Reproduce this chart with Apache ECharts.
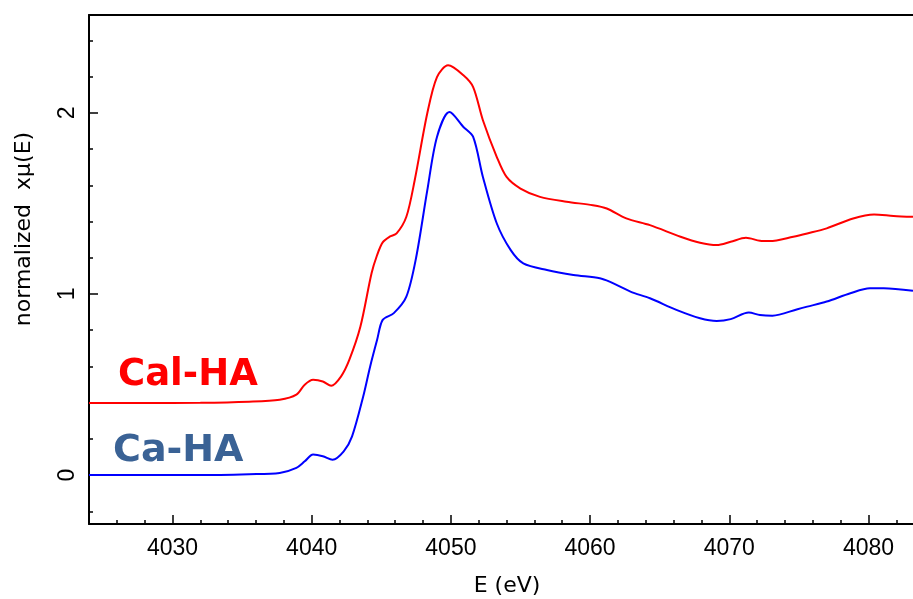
<!DOCTYPE html>
<html>
<head>
<meta charset="utf-8">
<script src="https://cdn.jsdelivr.net/npm/echarts@6/dist/echarts.min.js"></script>
<style>
  html, body { margin: 0; padding: 0; background: #fff; }
  #main { width: 913px; height: 599px; }
</style>
</head>
<body>
<div id="main"></div>
<script>
  // CaI-HA spectrum (red)
  var energyCaI = [4024, 4028, 4032, 4035.5, 4037.7, 4038.9, 4039.5, 4040.1, 4040.8, 4041.4, 4042.1, 4042.7, 4043.5, 4044.3, 4044.7, 4045.1, 4045.6, 4046.1, 4046.8, 4047.4, 4048.3, 4049.0, 4049.8, 4050.9, 4051.6, 4052.3, 4053.3, 4054.0, 4055.0, 4056.4, 4058.3, 4060.2, 4061.2, 4062.6, 4064.3, 4066.5, 4067.9, 4069.1, 4070.1, 4071.2, 4072.2, 4072.9, 4074.6, 4075.6, 4077.0, 4078.9, 4080.4, 4081.8, 4083.2]
  var muCaI = [0.398, 0.398, 0.399, 0.405, 0.416, 0.444, 0.499, 0.526, 0.517, 0.493, 0.544, 0.636, 0.82, 1.114, 1.215, 1.285, 1.316, 1.334, 1.426, 1.628, 1.996, 2.197, 2.262, 2.207, 2.142, 1.959, 1.756, 1.646, 1.582, 1.536, 1.509, 1.49, 1.472, 1.417, 1.38, 1.316, 1.283, 1.27, 1.288, 1.31, 1.294, 1.292, 1.316, 1.334, 1.362, 1.417, 1.439, 1.431, 1.426]

  // Ca-HA spectrum (blue)
  var energyCa = [4024, 4028, 4032, 4035.5, 4037.7, 4038.9, 4039.5, 4040.1, 4040.8, 4041.5, 4042.3, 4042.9, 4043.7, 4044.2, 4044.7, 4045.1, 4045.9, 4046.8, 4047.5, 4048.3, 4049.0, 4049.9, 4050.9, 4051.6, 4052.3, 4053.3, 4054.3, 4055.2, 4056.9, 4058.8, 4060.7, 4061.4, 4062.9, 4064.3, 4066.2, 4067.9, 4069.1, 4070.1, 4071.4, 4072.2, 4073.1, 4074.9, 4075.6, 4077.0, 4078.7, 4080.1, 4081.1, 4083.2]
  var muCa = [0.0, 0.0, 0.0, 0.005, 0.012, 0.04, 0.076, 0.113, 0.104, 0.085, 0.131, 0.214, 0.434, 0.6, 0.747, 0.857, 0.894, 0.985, 1.2, 1.57, 1.867, 2.004, 1.922, 1.867, 1.646, 1.389, 1.242, 1.169, 1.132, 1.105, 1.087, 1.068, 1.013, 0.976, 0.912, 0.866, 0.851, 0.861, 0.897, 0.884, 0.88, 0.916, 0.93, 0.958, 1.004, 1.031, 1.031, 1.017]

  // ticks
  var xTickValues = [4030, 4040, 4050, 4060, 4070, 4080]
  var xMinorValues = [4026, 4028, 4032, 4034, 4036, 4038, 4042, 4044, 4046, 4048, 4052, 4054, 4056, 4058, 4062, 4064, 4066, 4068, 4072, 4074, 4076, 4078, 4082]
  var yTickValues = [0, 1, 2]
  var yMinorValues = [-0.2, 0.2, 0.4, 0.6, 0.8, 1.2, 1.4, 1.6, 1.8, 2.2, 2.4]

  function pairs(xs, ys) {
    var out = []
    for (var i = 0; i < xs.length; i++) {
      out.push([xs[i], ys[i]])
    }
    return out
  }

  var xMin = 4024, xMax = 4083.2
  var yMin = -0.27, yMax = 2.54
  var tickFont = 'Liberation Sans'
  var blackLine = { color: '#000', width: 2 }
  var plain = function (v) { return String(v) }

  var chart = echarts.init(document.getElementById('main'))

  var option = {
    animation: false,
    backgroundColor: '#fff',
    grid: { left: 89, right: 0, top: 15, bottom: 75, outerBoundsMode: 'none', containLabel: false },
    xAxis: [{
      type: 'value', position: 'bottom', min: xMin, max: xMax,
      axisLine: { onZero: false, lineStyle: blackLine },
      axisTick: { inside: true, length: 9, customValues: xTickValues, lineStyle: { color: '#000', width: 1.5 } },
      axisLabel: { customValues: xTickValues, formatter: plain, color: '#000', fontSize: 23, fontFamily: tickFont, margin: 13 },
      splitLine: { show: false },
      name: 'E (eV)', nameLocation: 'middle', nameGap: 51,
      nameTextStyle: { color: '#000', fontSize: 22, fontFamily: 'DejaVu Sans', padding: [0, 0, 0, 12] }
    }, {
      // minor ticks
      type: 'value', position: 'bottom', min: xMin, max: xMax,
      axisLine: { show: false, onZero: false },
      axisTick: { inside: true, length: 4, customValues: xMinorValues, lineStyle: { color: '#000', width: 1.5 } },
      axisLabel: { show: false },
      splitLine: { show: false }
    }, {
      // top frame
      type: 'value', position: 'top', min: xMin, max: xMax,
      axisLine: { onZero: false, lineStyle: blackLine },
      axisTick: { show: false },
      axisLabel: { show: false },
      splitLine: { show: false }
    }],
    yAxis: [{
      type: 'value', position: 'left', min: yMin, max: yMax,
      axisLine: { onZero: false, lineStyle: blackLine },
      axisTick: { inside: true, length: 9, customValues: yTickValues, lineStyle: { color: '#000', width: 1.5 } },
      axisLabel: { customValues: yTickValues, formatter: plain, rotate: 90, color: '#000', fontSize: 23, fontFamily: tickFont, margin: 10 },
      splitLine: { show: false }
    }, {
      type: 'value', position: 'left', min: yMin, max: yMax,
      axisLine: { show: false, onZero: false },
      axisTick: { inside: true, length: 4, customValues: yMinorValues, lineStyle: { color: '#000', width: 1.5 } },
      axisLabel: { show: false },
      splitLine: { show: false }
    }],
    series: [{
      name: 'CaI-HA',
      type: 'line',
      data: pairs(energyCaI, muCaI),
      showSymbol: false,
      smooth: 0.3,
      lineStyle: { color: '#ff0000', width: 2 },
      z: 3
    }, {
      name: 'Ca-HA',
      type: 'line',
      data: pairs(energyCa, muCa),
      showSymbol: false,
      smooth: 0.3,
      lineStyle: { color: '#0000ff', width: 2 },
      z: 3
    }],
    graphic: [{
      type: 'text', x: 24, y: 229, rotation: Math.PI / 2,
      style: { text: 'normalized  xμ(E)', font: '22px "DejaVu Sans"', fill: '#000', align: 'center', verticalAlign: 'middle' }
    }, {
      type: 'text', x: 118, y: 375,
      style: { text: 'Cal-HA', font: 'bold 37px "DejaVu Sans"', fill: '#ff0000', verticalAlign: 'middle' }
    }, {
      type: 'text', x: 113, y: 451,
      style: { text: 'Ca-HA', font: 'bold 38px "DejaVu Sans"', fill: '#3a6295', verticalAlign: 'middle' }
    }]
  }

  chart.setOption(option)
</script>
</body>
</html>
